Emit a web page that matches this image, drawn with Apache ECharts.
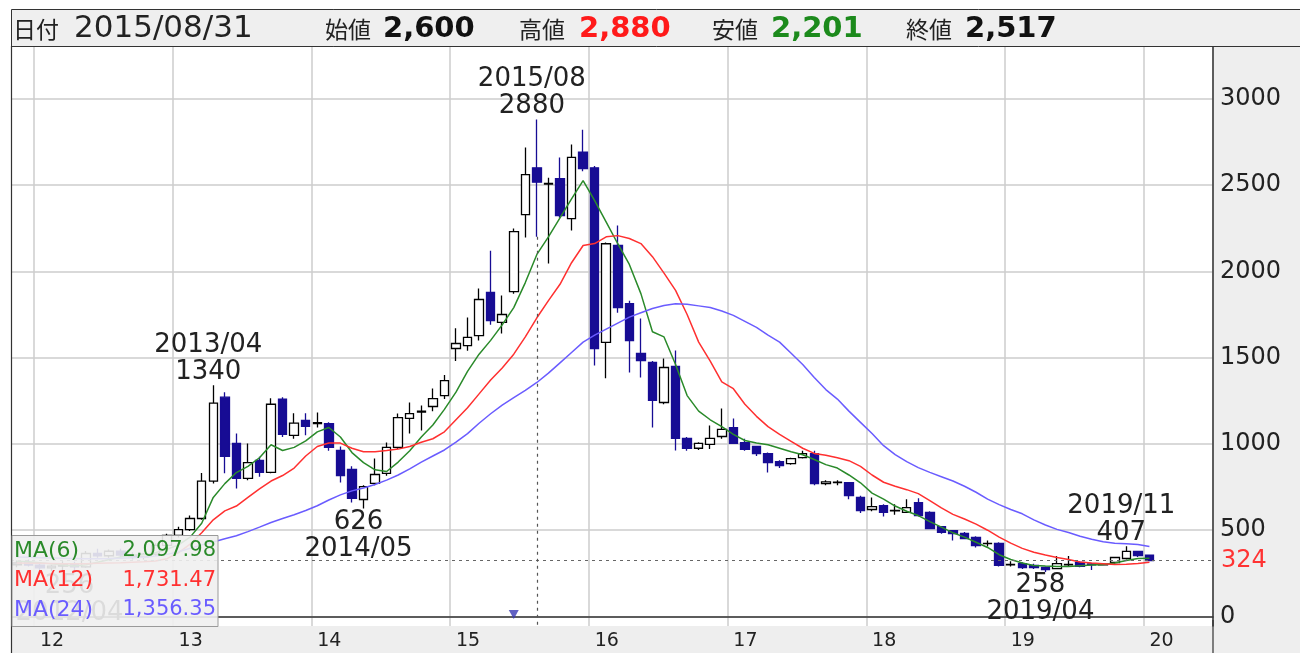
<!DOCTYPE html>
<html><head><meta charset="utf-8">
<script src="https://cdn.jsdelivr.net/npm/echarts@6/dist/echarts.min.js"></script>
<style>html,body{margin:0;padding:0;background:#fff}#c{width:1300px;height:653px}</style>
</head><body><div id="c"></div>
<script>
// ---- categories (monthly, 2011/11 .. 2020/06; data ends 2020/01) ----
const months = [];
for (let i = 0; i < 104; i++) {
  const m = (10 + i) % 12 + 1, y = 2011 + Math.floor((10 + i) / 12);
  months.push(y + '/' + String(m).padStart(2, '0'));
}
const yTicks = [0, 500, 1000, 1500, 2000, 2500, 3000];

// ---- OHLC (2011/11 .. 2020/01) ----
const opens = [300,310,298,282,292,300,288,365,352,378,356,346,362,412,
 470,504,568,784,1271,1003,800,904,835,1259,1050,1137,
 1118,1118,962,852,678,771,829,980,1148,1185,1217,1280,
 1553,1570,1628,1878,1704,1883,2329,2600,2505,2537,2306,2690,
 2600,1588,2150,1813,1524,1472,1240,1449,1032,975,997,1043,
 1095,1008,985,944,898,886,921,944,770,776,775,690,
 620,643,612,603,660,603,521,498,481,458,422,423,
 300,307,296,284,278,300,313,305,300,313,336,377,
 355];
const highs = [325,330,315,300,320,318,380,392,388,392,372,368,425,480,
 520,585,832,1340,1300,1061,1003,925,1265,1270,1178,1178,
 1182,1125,985,870,760,915,1008,1176,1240,1222,1321,1400,
 1670,1733,1900,2120,1860,2248,2717,2880,2543,2660,2735,2820,
 2610,2167,2265,1830,1727,1480,1495,1541,1040,1010,1107,1205,
 1147,1030,990,950,905,920,960,960,790,790,780,700,
 690,650,650,680,685,610,525,500,490,465,440,430,
 320,315,305,290,350,350,320,310,310,345,407,380,
 360];
const lows = [285,290,270,262,270,256,282,340,340,345,330,330,350,400,
 458,495,560,770,830,742,790,810,830,1040,1030,1050,
 1095,960,776,660,626,760,815,970,1060,1078,1190,1260,
 1480,1540,1600,1690,1640,1870,2196,2201,2045,2310,2236,2580,
 1454,1380,1760,1414,1385,1095,1230,962,960,965,970,1030,
 1000,960,930,834,860,880,915,760,760,760,680,600,
 610,580,590,600,580,505,480,440,450,400,405,290,
 290,275,275,258,275,290,285,270,295,305,330,345,
 320];
const closes = [310,298,282,292,300,288,365,352,378,356,346,362,412,470,
 504,568,784,1236,928,800,892,835,1230,1056,1120,1102,
 1124,980,817,684,753,823,980,1153,1176,1190,1263,1367,
 1582,1617,1837,1715,1750,2230,2560,2517,2510,2323,2660,2595,
 1553,2160,1790,1599,1483,1252,1443,1032,975,1003,1032,1084,
 1003,968,944,892,875,915,944,770,780,779,700,614,
 637,603,615,631,585,510,487,481,452,411,424,296,
 302,284,284,272,307,302,290,300,302,342,377,353,
 324];

// ---- moving averages ----
const ma6 = [320,318,312,305,298,292,300,315,330,345,355,358,370,390,
 415,460,540,690,770,834,870,920,995,962,980,1018,
 1070,1095,1040,950,892,850,840,895,960,1040,1110,1200,
 1300,1420,1520,1600,1690,1790,1935,2098,2200,2310,2420,2526,
 2410,2285,2160,2040,1871,1650,1620,1460,1280,1190,1140,1100,
 1055,1020,1005,995,975,955,937,910,880,860,820,775,
 715,680,640,610,585,550,518,485,460,430,400,358,
 330,310,296,292,290,290,294,298,302,310,325,336,
 338];
const ma12 = [310,309,308,307,306,305,306,308,310,312,315,318,322,335,
 370,420,485,560,612,640,690,740,785,817,860,930,
 985,1005,1005,975,955,955,962,970,985,1010,1030,1070,
 1140,1210,1290,1370,1440,1520,1620,1731,1830,1925,2050,2150,
 2161,2200,2207,2190,2161,2085,1990,1890,1750,1590,1480,1360,
 1320,1230,1160,1100,1055,1015,975,945,935,920,903,870,
 820,778,755,735,712,672,630,592,565,535,500,460,
 425,395,372,356,342,330,316,310,306,302,303,307,
 315];
const ma24 = [345,343,341,339,337,336,335,335,336,338,340,343,350,360,
 375,395,415,432,450,468,492,518,545,568,590,614,
 642,675,705,728,745,765,790,820,855,895,930,965,
 1010,1060,1120,1175,1225,1268,1310,1356,1410,1470,1530,1590,
 1630,1665,1700,1735,1760,1785,1802,1812,1810,1800,1790,1770,
 1745,1710,1675,1630,1590,1525,1460,1385,1315,1260,1190,1125,
 1060,990,938,897,863,835,810,785,755,720,680,648,
 620,595,560,530,505,487,465,448,433,425,421,417,
 406];

// ---- texts ----
const maNames = ['MA(6)', 'MA(12)', 'MA(24)'];
const maLegendValues = ['2,097.98', '1,731.47', '1,356.35'];
const maColors = ['#2a8a2a', '#ff3030', '#6a5cff'];
const headerDate = '2015/08/31';
const cursorMonth = '2015/08';
const eventMonth = '2015/06';
const annotations = [
  {date: '2012/04', value: 256, side: 'bottom'},
  {date: '2013/04', value: 1340, side: 'top'},
  {date: '2014/05', value: 626, side: 'bottom'},
  {date: '2015/08', value: 2880, side: 'top'},
  {date: '2019/04', value: 258, side: 'bottom'},
  {date: '2019/11', value: 407, side: 'top'}
];

const DOWN = '#170c94';
const candles = opens.map((o, i) => [o, closes[i], lows[i], highs[i]]);
const ci = months.indexOf(cursorMonth);
const lastClose = closes[closes.length - 1];
const fmt = v => v.toLocaleString('en-US');

const FONT = '"DejaVu Sans", "Noto Sans CJK JP", sans-serif';
const JFONT = '"Noto Sans CJK JP", sans-serif';

const headerItems = [
  {label: '日付', value: headerDate, color: '#222', bold: false, lx: 13, vx: 74, vs: 31},
  {label: '始値', value: fmt(opens[ci]), color: '#111', bold: true, lx: 325, vx: 383, vs: 29},
  {label: '高値', value: fmt(highs[ci]), color: '#ff1a1a', bold: true, lx: 519, vx: 579, vs: 29},
  {label: '安値', value: fmt(lows[ci]), color: '#1c8a1c', bold: true, lx: 712, vx: 771, vs: 29},
  {label: '終値', value: fmt(closes[ci]), color: '#111', bold: true, lx: 906, vx: 965, vs: 29}
];

const graphics = [
  {type: 'rect', shape: {x: 0, y: 0, width: 1300, height: 47}, style: {fill: '#fff'}, z: 1},
  {type: 'rect', shape: {x: 0, y: 0, width: 11, height: 653}, style: {fill: '#fff'}, z: 1},
  {type: 'rect', shape: {x: 11.5, y: 9.5, width: 1300, height: 37}, style: {fill: '#efefef', stroke: '#333', lineWidth: 1}, z: 20},
  {type: 'line', shape: {x1: 11.5, y1: 46, x2: 11.5, y2: 653}, style: {stroke: '#333', lineWidth: 1.2}, z: 20},
  {type: 'line', shape: {x1: 1213, y1: 620, x2: 1213, y2: 653}, style: {stroke: '#333', lineWidth: 1.2}, z: 20}
];
headerItems.forEach(h => {
  graphics.push({type: 'text', x: h.lx, y: 29, z: 21,
    style: {text: h.label, fontFamily: JFONT, fontSize: 23, fill: '#222', verticalAlign: 'middle'}});
  graphics.push({type: 'text', x: h.vx, y: 29, z: 21,
    style: {text: h.value, fontFamily: FONT, fontSize: h.vs, fontWeight: h.bold ? 'bold' : 'normal', fill: h.color, verticalAlign: 'middle'}});
});
graphics.push({type: 'rect', shape: {x: 12, y: 535.5, width: 206, height: 91}, style: {fill: 'rgba(240,240,240,0.9)', stroke: '#9a9a9a', lineWidth: 1}, z: 30});
maNames.forEach((n, k) => {
  const y = 551 + k * 29.5;
  graphics.push({type: 'text', x: 14, y: y, z: 31, style: {text: n, fontFamily: FONT, fontSize: 22, fill: maColors[k], verticalAlign: 'middle'}});
  graphics.push({type: 'text', x: 216, y: y, z: 31, style: {text: maLegendValues[k], fontFamily: FONT, fontSize: 21, fill: maColors[k], align: 'right', verticalAlign: 'middle'}});
});

const chart = echarts.init(document.getElementById('c'), null, {renderer: 'canvas', width: 1300, height: 653});
chart.setOption({
  animation: false,
  backgroundColor: '#eeeeee',
  grid: {left: 11, right: 87, top: 47, bottom: 27, show: true, backgroundColor: '#fff', borderWidth: 0},
  graphic: graphics,
  xAxis: {
    type: 'category', data: months, boundaryGap: true,
    axisLine: {show: true, lineStyle: {color: '#333', width: 1.5}},
    axisTick: {show: false},
    axisLabel: {
      interval: (i, v) => v.endsWith('/01'),
      formatter: v => v.slice(2, 4),
      align: 'left', fontFamily: FONT, fontSize: 19, color: '#222', margin: 6
    },
    splitLine: {show: true, interval: (i, v) => v.endsWith('/01'), lineStyle: {color: '#cccccc', width: 1.5}}
  },
  yAxis: {
    type: 'value', position: 'right', min: -55, max: 3300, scale: false,
    axisLine: {show: true, lineStyle: {color: '#333', width: 1.5}},
    axisTick: {show: false, customValues: yTicks},
    axisLabel: {customValues: yTicks, formatter: v => String(v), fontFamily: FONT, fontSize: 24, color: '#222', margin: 7, align: 'left'},
    splitLine: {show: true, lineStyle: {color: '#cccccc', width: 1.5}}
  },
  series: [
    {
      type: 'candlestick', name: 'price', data: candles, barWidth: 9, z: 3,
      itemStyle: {color: '#ffffff', color0: DOWN, borderColor: '#000', borderColor0: DOWN, borderWidth: 1.3},
      markPoint: {
        symbol: 'circle', symbolSize: 0, silent: true,
        label: {show: true, color: '#222', fontFamily: FONT, fontSize: 26, lineHeight: 27},
        data: annotations.map(a => ({
          coord: [a.date, a.value], value: a.value,
          label: {position: a.side, distance: 0, offset: [-5, 0],
            formatter: a.side === 'top' ? a.date + '\n' + a.value : a.value + '\n' + a.date}
        }))
      },
      markLine: {
        silent: true, symbol: 'none',
        data: [
          {yAxis: lastClose, lineStyle: {type: [3, 4], color: '#666', width: 1.2},
           label: {show: true, position: 'end', formatter: String(lastClose), color: '#ff3333', fontFamily: FONT, fontSize: 24, distance: 8}},
          [{coord: [cursorMonth, lows[ci]], lineStyle: {type: [3, 4], color: '#555', width: 1.2}, label: {show: false}},
           {coord: [cursorMonth, -55]}]
        ]
      }
    },
    {type: 'line', name: maNames[0], data: ma6, showSymbol: false, silent: true, z: 4, lineStyle: {color: maColors[0], width: 1.5}},
    {type: 'line', name: maNames[1], data: ma12, showSymbol: false, silent: true, z: 4, lineStyle: {color: maColors[1], width: 1.5}},
    {type: 'line', name: maNames[2], data: ma24, showSymbol: false, silent: true, z: 4, lineStyle: {color: maColors[2], width: 1.5}},
    {type: 'scatter', data: [[eventMonth, 0]], symbol: 'triangle', symbolRotate: 180, symbolSize: [10, 9], symbolOffset: [0, -2], itemStyle: {color: '#3a3ab4'}, silent: true, z: 5}
  ]
});
</script></body></html>
